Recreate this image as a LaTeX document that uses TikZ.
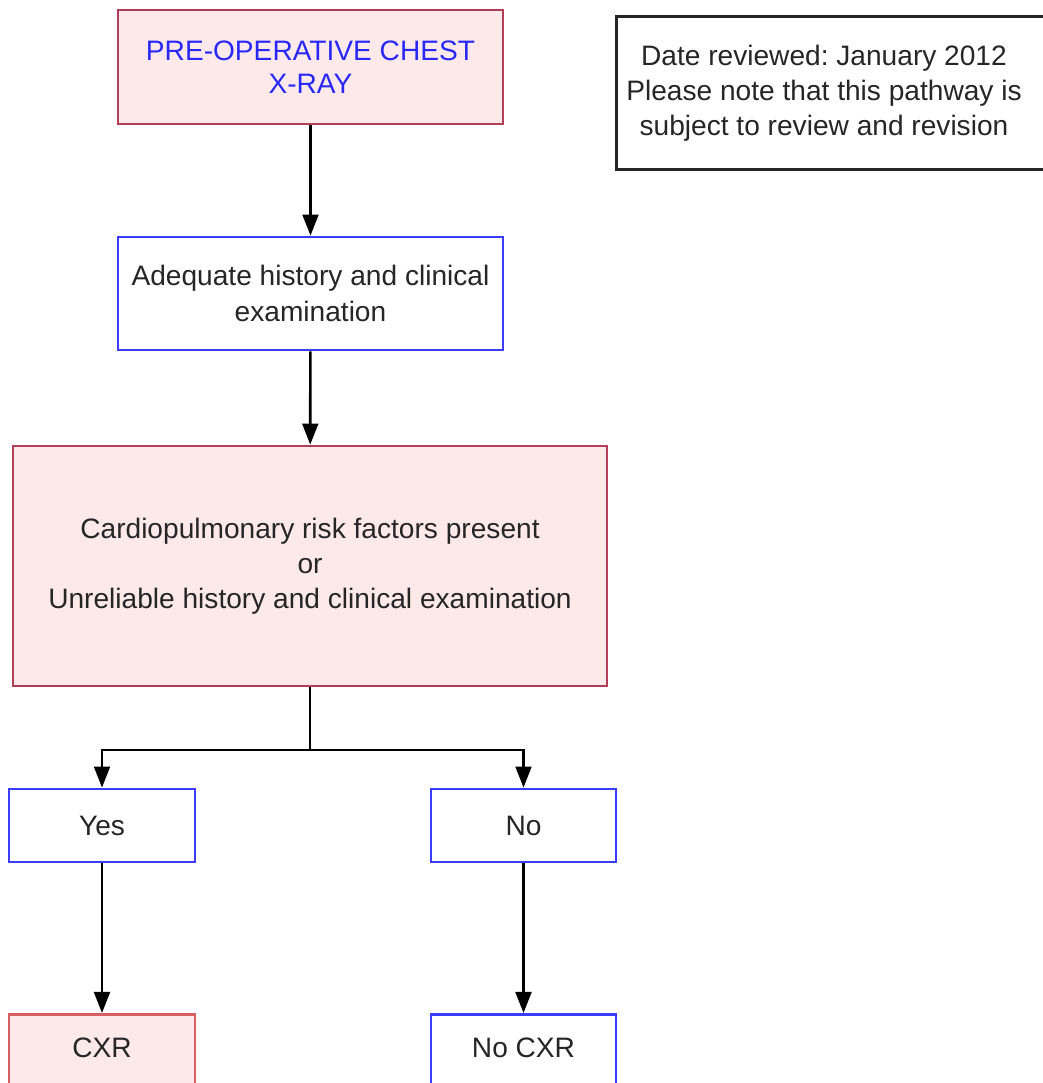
\documentclass[tikz,border=0pt]{standalone}
\usepackage{fontspec}
\setmainfont{Liberation Sans}
\usetikzlibrary{arrows.meta}
\definecolor{mypink}{RGB}{253,233,233}
\definecolor{mydarkred}{RGB}{178,62,88}
\definecolor{mylightred}{RGB}{215,95,100}
\definecolor{myblue}{RGB}{60,60,255}
\definecolor{mytextblue}{RGB}{40,40,250}
\frenchspacing

\begin{document}
\begin{tikzpicture}[x=0.02cm,y=-0.02cm,
    box/.style={draw,line width=1.6pt,align=center,inner sep=0pt,
      font=\fontsize{16}{20}\selectfont,text=black!85},
    redbox/.style={box,draw=mydarkred,fill=mypink},
    bluebox/.style={box,draw=myblue,fill=white},
    notebox/.style={box,draw=black!85,fill=white},
    flow/.style={line width=1.5pt,-{Triangle[width=9pt,length=12pt]}}]
  \useasboundingbox (0,0) rectangle (1043,1083);
  \clip (0,0) rectangle (1043,1083);
  \node[redbox,minimum width=385*0.02cm,minimum height=114*0.02cm,text=mytextblue,
    font=\fontsize{16}{19}\selectfont]
    (xray) at (310.5,67) {PRE-OPERATIVE CHEST\\X-RAY};
  \node[notebox,anchor=north west,minimum width=445*0.02cm,minimum height=153*0.02cm]
    (note) at (615,15) {};
  \node[font=\fontsize{16}{20}\selectfont,text=black!85,align=center]
    (notetext) at (824,93) {Date reviewed: January 2012\\Please note that this pathway is\\subject to review and revision};
  \node[bluebox,minimum width=385*0.02cm,minimum height=113*0.02cm]
    (history) at (310.5,293.5) {Adequate history and clinical\\examination};
  \node[redbox,minimum width=594*0.02cm,minimum height=240*0.02cm]
    (risk) at (310,566) {Cardiopulmonary risk factors present\\or\\Unreliable history and clinical examination};
  \coordinate (split) at (310,750);
  \node[bluebox,minimum width=186*0.02cm,minimum height=73*0.02cm]
    (yes) at (102,825.5) {Yes};
  \node[bluebox,minimum width=185*0.02cm,minimum height=73*0.02cm]
    (no) at (523.5,825.5) {No};
  \node[box,draw=mylightred,fill=mypink,anchor=north,minimum width=186*0.02cm,minimum height=100*0.02cm]
    (cxr) at (102,1013) {};
  \node[bluebox,anchor=north,minimum width=185*0.02cm,minimum height=100*0.02cm]
    (nocxr) at (523.5,1013) {};
  \node[font=\fontsize{16}{20}\selectfont,text=black!85] (cxrtext) at (102,1048) {CXR};
  \node[font=\fontsize{16}{20}\selectfont,text=black!85] (nocxrtext) at (523.5,1048) {No CXR};
  \draw[flow] (xray) -- (history);
  \draw[flow] (history) -- (risk);
  \draw[flow] (risk) -- (split) -| (yes);
  \draw[flow] (split) -| (no);
  \draw[flow] (yes) -- (cxr);
  \draw[flow] (no) -- (nocxr);
\end{tikzpicture}
\end{document}
